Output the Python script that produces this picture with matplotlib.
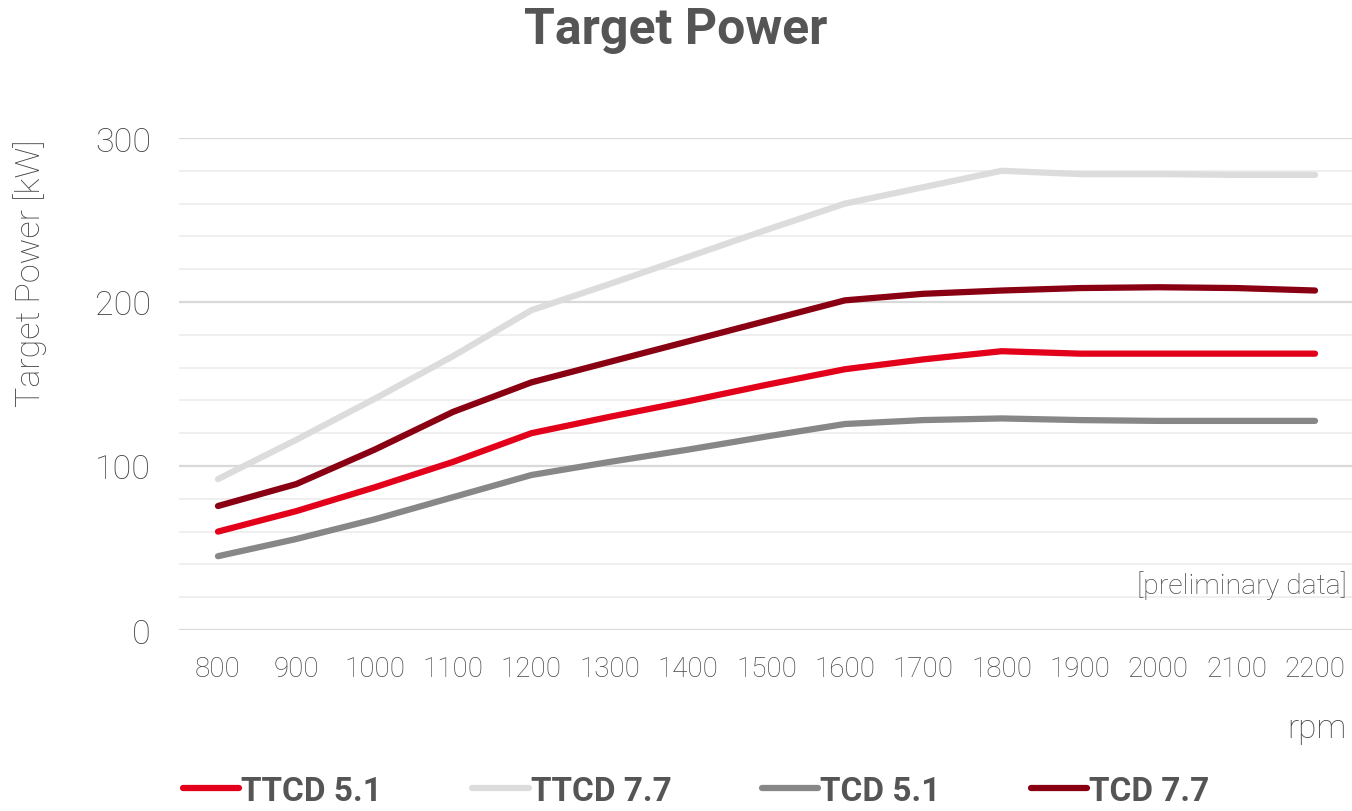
import matplotlib
matplotlib.use("Agg")
import matplotlib.pyplot as plt
from matplotlib.ticker import MultipleLocator

plt.rcParams['font.family'] = ['Roboto', 'DejaVu Sans']

rpm = [800, 900, 1000, 1100, 1200, 1300, 1400, 1500, 1600, 1700, 1800, 1900, 2000, 2100, 2200]
ttcd_51 = [60, 72.5, 87, 102.5, 120, 130, 139.5, 149.5, 159, 165, 170, 168.5, 168.5, 168.5, 168.5]
ttcd_77 = [92, 116, 141, 167, 195, 211, 227.5, 244, 260, 270, 280, 278, 278, 277.5, 277.5]
tcd_51 = [45, 55.5, 67.5, 81, 94.5, 102.5, 110, 118, 125.6, 128, 129, 128, 127.5, 127.5, 127.5]
tcd_77 = [75.6, 89, 110, 133, 151, 163.5, 176, 188.5, 201, 205, 207, 208.5, 209, 208.5, 207]

series = [("TTCD 5.1", ttcd_51, "#e2001a"),
          ("TTCD 7.7", ttcd_77, "#dcdcdc"),
          ("TCD 5.1", tcd_51, "#878787"),
          ("TCD 7.7", tcd_77, "#8a0013")]

txt = "#555555"
light_txt = "#474747"

fig = plt.figure(figsize=(13.52, 8.12), dpi=100)
ax = fig.add_axes([178.8 / 1352, 1 - 631 / 812, 1175.4 / 1352, 492 / 812])

x = list(range(len(rpm)))
for name, vals, col in series:
    ax.plot(x, vals, color=col, lw=4.5, label=name, solid_capstyle='round', zorder=3)

ax.set_xlim(-0.5, len(rpm) - 0.5)
ax.set_ylim(0, 300)
ax.set_xticks(x)
ax.set_xticklabels([str(r) for r in rpm])
ax.yaxis.set_major_locator(MultipleLocator(100))
ax.yaxis.set_minor_locator(MultipleLocator(20))
ax.grid(which='major', axis='y', color='#d9d9d9', lw=1.6, zorder=0)
ax.grid(which='minor', axis='y', color='#efefef', lw=1.4, zorder=0)
for s in ax.spines.values():
    s.set_visible(False)
ax.tick_params(which='both', length=0)
ax.tick_params(axis='x', labelsize=20, labelcolor=light_txt, pad=18)
ax.tick_params(axis='y', labelsize=24.5, labelcolor=light_txt, pad=20)
for lab in ax.get_xticklabels() + ax.get_yticklabels():
    lab.set_fontweight('light')

fig.text(0.5, 1 - 31 / 812, "Target Power", ha='center', va='center',
         fontsize=36, fontweight='bold', color=txt)
fig.text(30 / 1352, 1 - 273 / 812, "Target Power [kW]", rotation=90, ha='center', va='center',
         fontsize=24.5, fontweight='light', color=light_txt)
fig.text(1347 / 1352, 1 - 586 / 812, "[preliminary data]", ha='right', va='center',
         fontsize=20.5, fontweight='light', color=light_txt)
fig.text(1346 / 1352, 1 - 729 / 812, "rpm", ha='right', va='center',
         fontsize=24, fontweight='light', color=light_txt)

leg = fig.legend(loc='center left', bbox_to_anchor=(166 / 1352, 1 - 792 / 812), ncol=4,
                 frameon=False, borderpad=0, handlelength=1.7, handletextpad=0.06,
                 columnspacing=2.7, prop={'size': 24, 'weight': 'bold'})
for t in leg.get_texts():
    t.set_color(txt)

fig.savefig("out.png", dpi=100)
